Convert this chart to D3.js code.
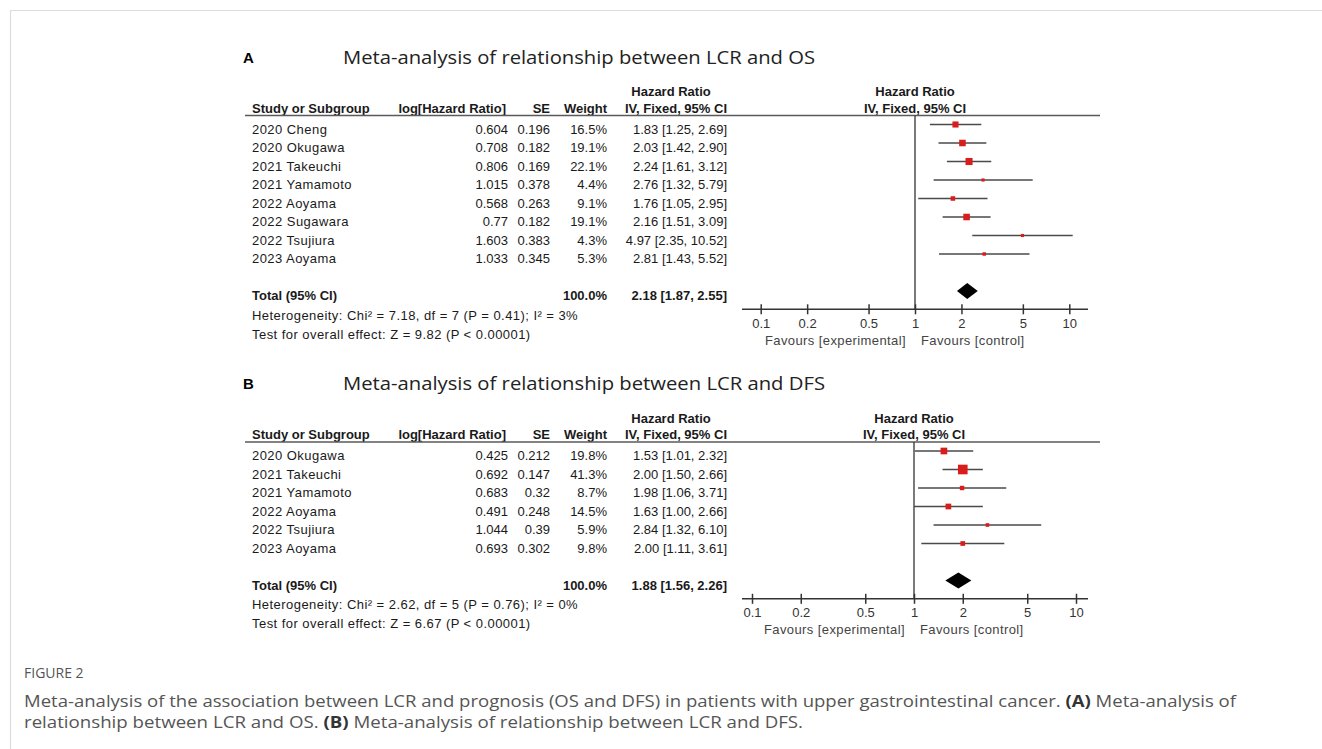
<!DOCTYPE html>
<title>Meta-analysis of LCR and prognosis</title>
<meta charset="utf-8">
<style>

body {
  margin: 0;
  background: #fff;
}

svg text {
  font-family: "Liberation Sans", Arial, sans-serif;
}

.tbl text {
  font-size: 13px;
  fill: #1a1a1a;
}

.tbl .bold {
  font-weight: bold;
}

.tbl .wide {
  letter-spacing: 0.45px;
}

.axis text {
  font-size: 13px;
  fill: #333;
}

.axis line {
  stroke: #333;
  stroke-width: 1.5;
}

.cap text {
  font-family: "Open Sans", "Noto Sans", sans-serif;
  fill: #555;
}

</style>
<body>

<script src="https://cdn.jsdelivr.net/npm/d3@7"></script>

<script>

// ---- panel A : LCR and OS ----
var studiesOS = ["2020 Cheng", "2020 Okugawa", "2021 Takeuchi", "2021 Yamamoto", "2022 Aoyama", "2022 Sugawara", "2022 Tsujiura", "2023 Aoyama"];
var logHrOS  = [0.604, 0.708, 0.806, 1.015, 0.568, 0.77, 1.603, 1.033];
var seOS     = [0.196, 0.182, 0.169, 0.378, 0.263, 0.182, 0.383, 0.345];
var weightOS = [16.5, 19.1, 22.1, 4.4, 9.1, 19.1, 4.3, 5.3];
var hrOS     = [1.83, 2.03, 2.24, 2.76, 1.76, 2.16, 4.97, 2.81];
var loOS     = [1.25, 1.42, 1.61, 1.32, 1.05, 1.51, 2.35, 1.43];
var hiOS     = [2.69, 2.90, 3.12, 5.79, 2.95, 3.09, 10.52, 5.52];
var totalOS  = [2.18, 1.87, 2.55];
var hetOS    = "Heterogeneity: Chi² = 7.18, df = 7 (P = 0.41); I² = 3%";
var testOS   = "Test for overall effect: Z = 9.82 (P < 0.00001)";

// ---- panel B : LCR and DFS ----
var studiesDFS = ["2020 Okugawa", "2021 Takeuchi", "2021 Yamamoto", "2022 Aoyama", "2022 Tsujiura", "2023 Aoyama"];
var logHrDFS  = [0.425, 0.692, 0.683, 0.491, 1.044, 0.693];
var seDFS     = [0.212, 0.147, 0.32, 0.248, 0.39, 0.302];
var weightDFS = [19.8, 41.3, 8.7, 14.5, 5.9, 9.8];
var hrDFS     = [1.53, 2.00, 1.98, 1.63, 2.84, 2.00];
var loDFS     = [1.01, 1.50, 1.06, 1.00, 1.32, 1.11];
var hiDFS     = [2.32, 2.66, 3.71, 2.66, 6.10, 3.61];
var totalDFS  = [1.88, 1.56, 2.26];
var hetDFS    = "Heterogeneity: Chi² = 2.62, df = 5 (P = 0.76); I² = 0%";
var testDFS   = "Test for overall effect: Z = 6.67 (P < 0.00001)";

var tickValues = [0.1, 0.2, 0.5, 1, 2, 5, 10];

var captionHead = "FIGURE 2";

var panels = [
  {letter: "A", title: "Meta-analysis of relationship between LCR and OS", titleLen: 472,
   studies: studiesOS, logHr: logHrOS, se: seOS, weight: weightOS, hr: hrOS, lo: loOS, hi: hiOS,
   total: totalOS, het: hetOS, test: testOS, top: 0, xRange: [760.7, 1069.3]},
  {letter: "B", title: "Meta-analysis of relationship between LCR and DFS", titleLen: 482,
   studies: studiesDFS, logHr: logHrDFS, se: seDFS, weight: weightDFS, hr: hrDFS, lo: loDFS, hi: hiDFS,
   total: totalDFS, het: hetDFS, test: testDFS, top: 326.5, xRange: [752, 1076]}
];

var width = 1322, height = 749;

var svg = d3.select("body")
  .append("svg")
    .attr("width", width)
    .attr("height", height);

// light frame of the figure box
svg.append("line")
    .attr("x1", 10).attr("x2", width).attr("y1", 10.5).attr("y2", 10.5)
    .style("stroke", "#dcdcdc").style("stroke-width", 1.2);
svg.append("line")
    .attr("x1", 10.5).attr("x2", 10.5).attr("y1", 10).attr("y2", height)
    .style("stroke", "#dcdcdc").style("stroke-width", 1.2);

// column positions (text anchors)
var col = {name: 252, logHr: 508, se: 550, weight: 607, ci: 727, ciHead: 671};
var step = 18.5;
var fmt2 = d3.format(".2f");
var ciText = function(h, l, u) { return fmt2(h) + " [" + fmt2(l) + ", " + fmt2(u) + "]"; };

// square side grows with the study weight
var size = d3.scaleSqrt().domain([0, 100]).range([0, 15]);

panels.forEach(function(p) {
  var g = svg.append("g").attr("class", "tbl").attr("transform", "translate(0," + p.top + ")");
  var n = p.studies.length;
  var rowY = function(i) { return 124.5 + i * step; };
  var totalY = rowY(n + 1);
  var axisY = totalY + 18.3;

  var x = d3.scaleLog().domain([0.1, 10]).range(p.xRange);

  // panel letter and title
  g.append("text")
      .attr("x", 243).attr("y", 62.5)
      .style("font-size", "15px").style("font-weight", "bold").style("fill", "#000")
      .text(p.letter);
  g.append("text")
      .attr("x", 343).attr("y", 63.5)
      .attr("textLength", p.titleLen).attr("lengthAdjust", "spacingAndGlyphs")
      .style("font-family", "'Open Sans', 'Noto Sans', sans-serif")
      .style("font-size", "19px").style("fill", "#222")
      .text(p.title);

  // headers
  g.append("text").attr("class", "bold").attr("x", col.ciHead).attr("y", 96)
      .style("text-anchor", "middle").text("Hazard Ratio");
  g.append("text").attr("class", "bold").attr("x", x(1)).attr("y", 96)
      .style("text-anchor", "middle").text("Hazard Ratio");
  var heads = [
    {t: "Study or Subgroup", x: col.name, a: "start"},
    {t: "log[Hazard Ratio]", x: col.logHr - 2, a: "end"},
    {t: "SE", x: col.se, a: "end"},
    {t: "Weight", x: col.weight, a: "end"},
    {t: "IV, Fixed, 95% CI", x: col.ci, a: "end"},
    {t: "IV, Fixed, 95% CI", x: x(1), a: "middle"}
  ];
  g.selectAll(".head")
    .data(heads)
    .enter().append("text")
      .attr("class", "head bold")
      .attr("x", function(d) { return d.x; })
      .attr("y", 112.5)
      .style("text-anchor", function(d) { return d.a; })
      .text(function(d) { return d.t; });

  g.append("line")
      .attr("x1", 245).attr("x2", 1100).attr("y1", 115.5).attr("y2", 115.5)
      .style("stroke", "#5a5a5a").style("stroke-width", 1.6);

  // study rows
  var rows = g.selectAll(".row")
    .data(p.studies)
    .enter().append("g")
      .attr("class", "row")
      .attr("transform", function(d, i) { return "translate(0," + (rowY(i) + 9) + ")"; });
  rows.append("text").attr("class", "wide").attr("x", col.name).text(function(d) { return d; });
  rows.append("text").attr("x", col.logHr).style("text-anchor", "end")
      .text(function(d, i) { return p.logHr[i]; });
  rows.append("text").attr("x", col.se).style("text-anchor", "end")
      .text(function(d, i) { return p.se[i]; });
  rows.append("text").attr("x", col.weight).style("text-anchor", "end")
      .text(function(d, i) { return p.weight[i].toFixed(1) + "%"; });
  rows.append("text").attr("x", col.ci).style("text-anchor", "end")
      .text(function(d, i) { return ciText(p.hr[i], p.lo[i], p.hi[i]); });

  // total + footer
  g.append("text").attr("class", "bold").attr("x", col.name).attr("y", totalY + 9).text("Total (95% CI)");
  g.append("text").attr("class", "bold").attr("x", col.weight).attr("y", totalY + 9)
      .style("text-anchor", "end").text("100.0%");
  g.append("text").attr("class", "bold").attr("x", col.ci).attr("y", totalY + 9)
      .style("text-anchor", "end").text(ciText(p.total[0], p.total[1], p.total[2]));
  g.append("text").attr("class", "wide").attr("x", col.name).attr("y", totalY + 28.5).text(p.het);
  g.append("text").attr("class", "wide").attr("x", col.name).attr("y", totalY + 47.5).text(p.test);

  // null line
  g.append("line")
      .attr("x1", x(1)).attr("x2", x(1)).attr("y1", 115.5).attr("y2", axisY)
      .style("stroke", "#333").style("stroke-width", 1.3);

  // confidence intervals
  g.selectAll(".ci")
    .data(p.studies)
    .enter().append("line")
      .attr("class", "ci")
      .attr("x1", function(d, i) { return x(p.lo[i]); })
      .attr("x2", function(d, i) { return x(p.hi[i]); })
      .attr("y1", function(d, i) { return rowY(i); })
      .attr("y2", function(d, i) { return rowY(i); })
      .style("stroke", "#4a4a4a").style("stroke-width", 1.5);

  // weighted squares
  g.selectAll(".sq")
    .data(p.studies)
    .enter().append("rect")
      .attr("class", "sq")
      .attr("x", function(d, i) { return x(p.hr[i]) - size(p.weight[i]) / 2; })
      .attr("y", function(d, i) { return rowY(i) - size(p.weight[i]) / 2; })
      .attr("width", function(d, i) { return size(p.weight[i]); })
      .attr("height", function(d, i) { return size(p.weight[i]); })
      .style("fill", "#d91c1c");

  // pooled diamond
  var dh = 8;
  g.append("path")
      .attr("d", "M" + x(p.total[1]) + "," + totalY +
                 "L" + x(p.total[0]) + "," + (totalY - dh) +
                 "L" + x(p.total[2]) + "," + totalY +
                 "L" + x(p.total[0]) + "," + (totalY + dh) + "Z")
      .style("fill", "#000");

  // axis
  var axis = g.append("g")
      .attr("class", "axis")
      .attr("transform", "translate(0," + axisY + ")")
      .call(d3.axisBottom(x).tickValues(tickValues).tickFormat(d3.format("")).tickSize(5).tickPadding(4));
  axis.select(".domain").remove();
  axis.selectAll(".tick line").attr("y1", -5);
  axis.append("line")
      .attr("x1", 742).attr("x2", 1088).attr("y1", 0).attr("y2", 0);
  axis.selectAll("text").style("font-family", "'Liberation Sans', Arial, sans-serif");

  g.append("text")
      .attr("x", x(1) - 9).attr("y", axisY + 35.5)
      .style("text-anchor", "end").style("fill", "#444").style("letter-spacing", "0.4px")
      .text("Favours [experimental]");
  g.append("text")
      .attr("x", x(1) + 6).attr("y", axisY + 35.5)
      .style("fill", "#444").style("letter-spacing", "0.4px")
      .text("Favours [control]");
});

// caption
var cap = svg.append("g").attr("class", "cap");
cap.append("text")
    .attr("x", 24).attr("y", 678)
    .style("font-size", "14px")
    .text(captionHead);
var l1 = cap.append("text")
    .attr("x", 24).attr("y", 707)
    .attr("textLength", 1212).attr("lengthAdjust", "spacingAndGlyphs")
    .style("font-size", "15.5px");
l1.append("tspan").text("Meta-analysis of the association between LCR and prognosis (OS and DFS) in patients with upper gastrointestinal cancer. ");
l1.append("tspan").style("font-weight", "bold").style("fill", "#333").text("(A)");
l1.append("tspan").text(" Meta-analysis of");
var l2 = cap.append("text")
    .attr("x", 24).attr("y", 728)
    .attr("textLength", 779).attr("lengthAdjust", "spacingAndGlyphs")
    .style("font-size", "15.5px");
l2.append("tspan").text("relationship between LCR and OS. ");
l2.append("tspan").style("font-weight", "bold").style("fill", "#333").text("(B)");
l2.append("tspan").text(" Meta-analysis of relationship between LCR and DFS.");

</script>
</body>
